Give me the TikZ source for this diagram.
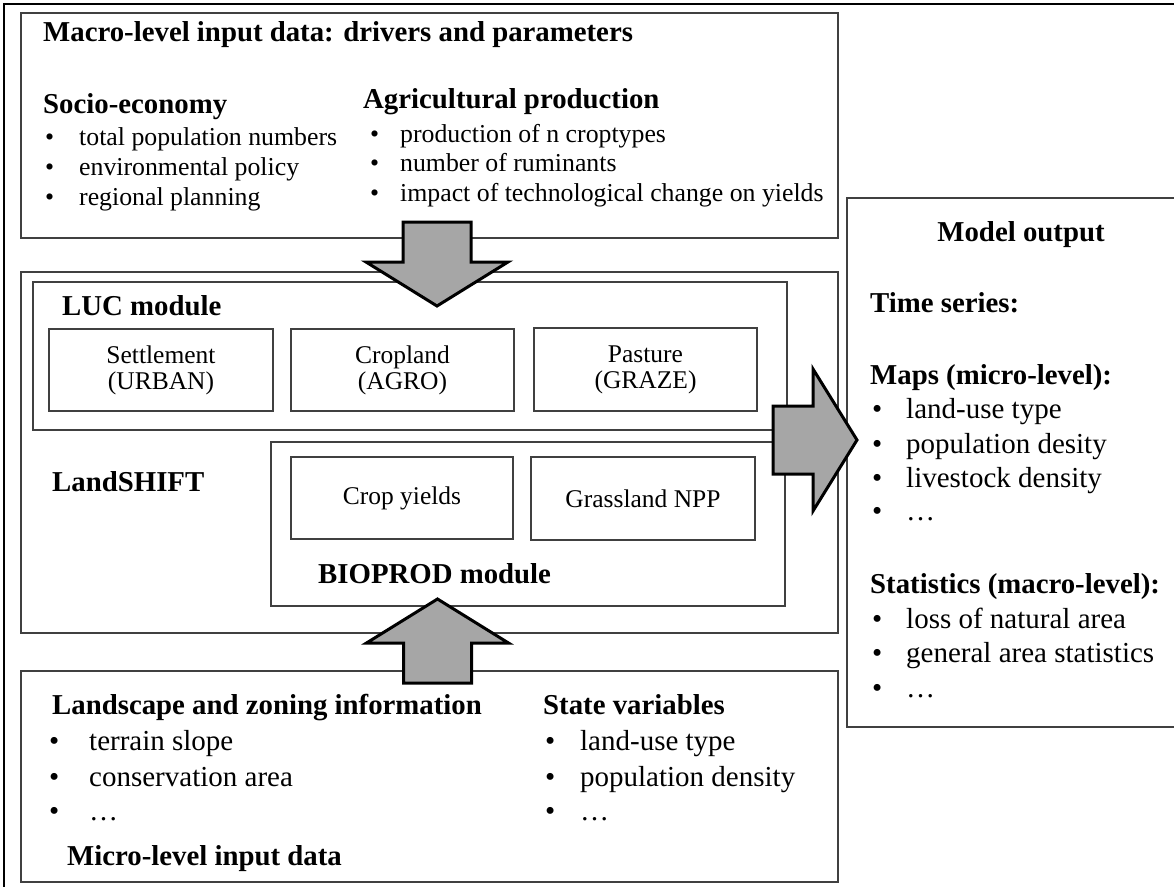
\documentclass[tikz,border=0pt]{standalone}
\usepackage{fontspec}
\setmainfont{Liberation Serif}
\newcommand\Puce[2][34pt]{\makebox[#1][l]{\textbullet}#2}
\begin{document}
\begin{tikzpicture}[x=1pt,y=-1pt]
	\tikzstyle{cadre}=[draw=black!75, line width=1.3pt, inner sep=0pt]
	\tikzstyle{boite}=[cadre, align=center, font=\fontsize{25.5}{26}\selectfont]
	\tikzstyle{titre}=[anchor=base west, inner sep=0pt, font=\fontsize{28.8}{30}\selectfont\bfseries]
	\tikzstyle{texte}=[anchor=base west, inner sep=0pt, font=\fontsize{25.8}{30}\selectfont]
	\tikzstyle{liste}=[anchor=base west, inner sep=0pt, font=\fontsize{29}{34}\selectfont]
	\tikzstyle{fleche}=[fill=black!35, draw=black, line width=3pt, line join=miter]
	\tikzset{flechebloc/.pic={\draw[fleche] (0,-34) -- (40,-34) -- (40,-71) -- (84,0) -- (40,71) -- (40,34) -- (0,34) -- cycle;}}
	\useasboundingbox (0,0) rectangle (1174,886);
	\draw[line width=2.5pt] (4,892) -- (4,4) -- (1180,4);
	% cadres
	\node[cadre, minimum width=817, minimum height=225] (Macro) at (429.5,125.5) {};
	\node[cadre, minimum width=817, minimum height=361] (Modele) at (429.5,452.5) {};
	\node[cadre, minimum width=754, minimum height=148] (Luc) at (410,356) {};
	\node[cadre, minimum width=514, minimum height=164] (Bioprod) at (528,524) {};
	\node[cadre, minimum width=817, minimum height=211] (Micro) at (429.5,776.5) {};
	\node[cadre, minimum width=340, minimum height=529] (Sortie) at (1017,462.5) {};
	% modules
	\node[boite, minimum width=224, minimum height=82] (Urban) at (161,370) {Settlement\\(URBAN)};
	\node[boite, minimum width=223, minimum height=82] (Agro) at (402.5,370) {Cropland\\(AGRO)};
	\node[boite, minimum width=223, minimum height=83] (Graze) at (645.5,369.5) {Pasture\\(GRAZE)};
	\node[boite, minimum width=222, minimum height=82] (Rendement) at (402,498) {Crop yields};
	\node[boite, minimum width=224, minimum height=83] (Npp) at (643,498.5) {Grassland NPP};
	% entrees macro
	\node[titre] (MacroTitre) at (43,41) {Macro-level input data: drivers and parameters};
	\node[titre] (Socio) at (43,113) {Socio-economy};
	\node[texte] (SocioA) at (45,145) {\Puce{total population numbers}};
	\node[texte] (SocioB) at (45,175) {\Puce{environmental policy}};
	\node[texte] (SocioC) at (45,205) {\Puce{regional planning}};
	\node[titre] (Agri) at (363,108) {Agricultural production};
	\node[texte] (AgriA) at (370,142) {\Puce[30pt]{production of n croptypes}};
	\node[texte] (AgriB) at (370,171) {\Puce[30pt]{number of ruminants}};
	\node[texte] (AgriC) at (370,201) {\Puce[30pt]{impact of technological change on yields}};
	% modele
	\node[titre] (LucTitre) at (62,315) {LUC module};
	\node[titre] (LandShift) at (52,491) {LandSHIFT};
	\node[titre] (BioTitre) at (318,583) {BIOPROD module};
	% entrees micro
	\node[titre] (Paysage) at (52,714) {Landscape and zoning information};
	\node[liste] (PaysageA) at (49,750) {\Puce[40pt]{terrain slope}};
	\node[liste] (PaysageB) at (49,786) {\Puce[40pt]{conservation area}};
	\node[liste] (PaysageC) at (49,820) {\Puce[40pt]{…}};
	\node[titre] (MicroTitre) at (67,865) {Micro-level input data};
	\node[titre] (Etat) at (543,714) {State variables};
	\node[liste] (EtatA) at (545,750) {\Puce[35pt]{land-use type}};
	\node[liste] (EtatB) at (545,786) {\Puce[35pt]{population density}};
	\node[liste] (EtatC) at (545,820) {\Puce[35pt]{…}};
	% sortie
	\node[titre, anchor=base] (SortieTitre) at (1021,241) {Model output};
	\node[titre] (Series) at (870,312) {Time series:};
	\node[titre] (Cartes) at (870,384) {Maps (micro-level):};
	\node[liste] (CartesA) at (872,418) {\Puce{land-use type}};
	\node[liste] (CartesB) at (872,453) {\Puce{population desity}};
	\node[liste] (CartesC) at (872,487) {\Puce{livestock density}};
	\node[liste] (CartesD) at (872,520) {\Puce{…}};
	\node[titre] (Stats) at (870,593) {Statistics (macro-level):};
	\node[liste] (StatsA) at (872,628) {\Puce{loss of natural area}};
	\node[liste] (StatsB) at (872,662) {\Puce{general area statistics}};
	\node[liste] (StatsC) at (872,697) {\Puce{…}};
	% fleches
	\pic[rotate=-90] (FlecheHaut) at (437,222) {flechebloc};
	\pic[rotate=90] (FlecheBas) at (437.5,683) {flechebloc};
	\pic (FlecheDroite) at (773,440) {flechebloc};
\end{tikzpicture}
\end{document}
